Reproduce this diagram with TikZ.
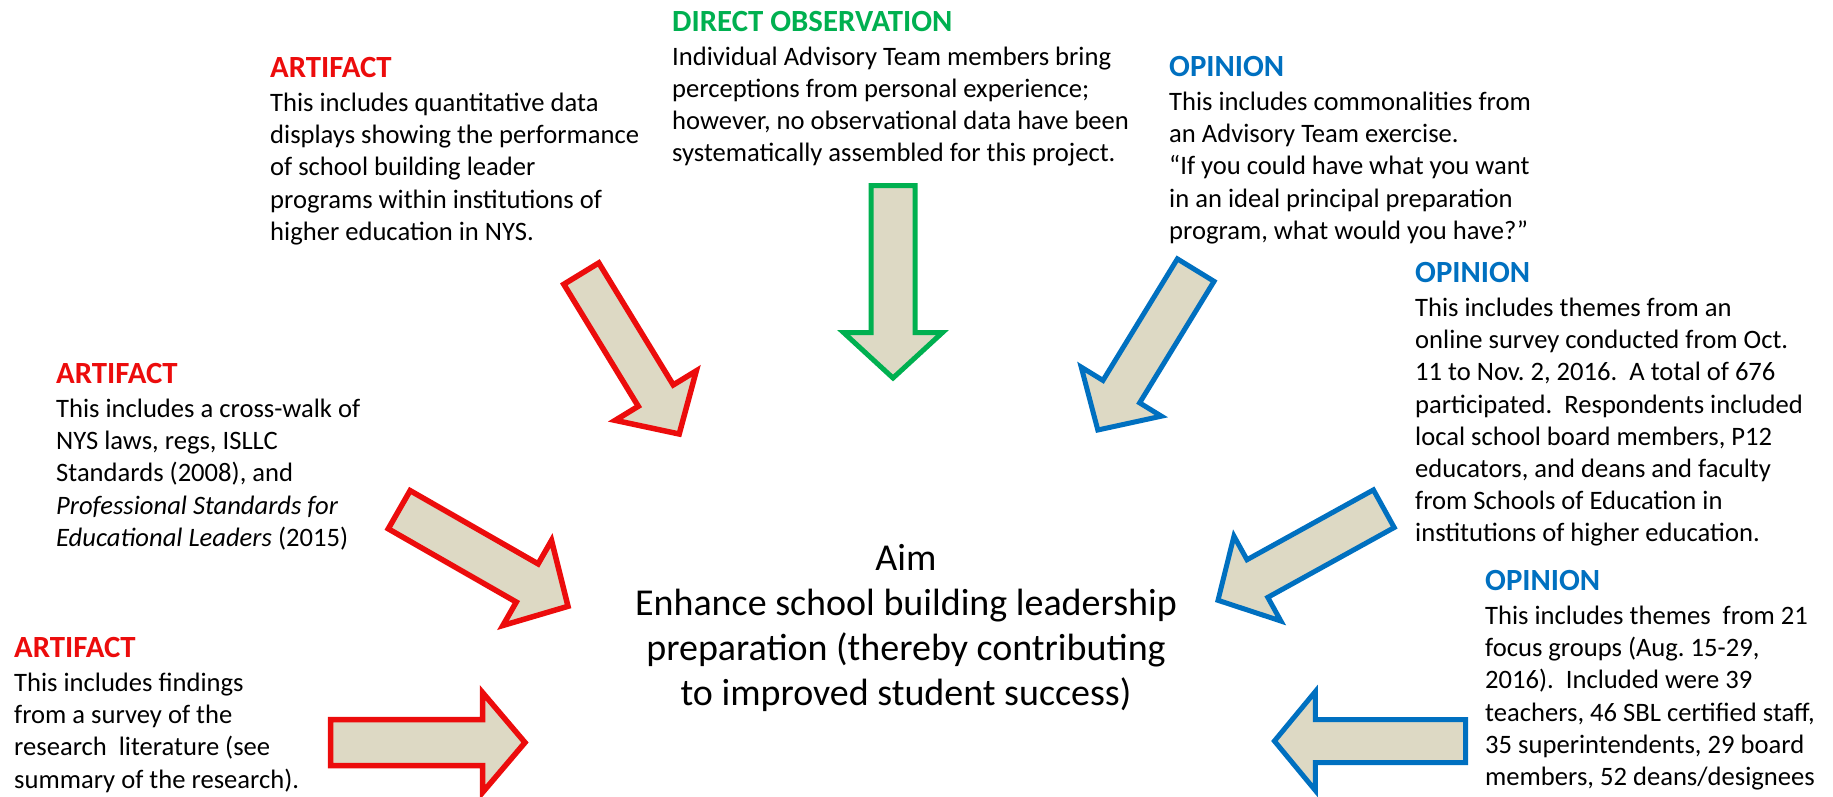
\documentclass[tikz,border=0pt]{standalone}
\usepackage{fontspec}
\setmainfont{Carlito}
\usetikzlibrary{calc}

\definecolor{artred}{RGB}{236,12,12}
\definecolor{opblue}{RGB}{0,112,192}
\definecolor{obsgreen}{RGB}{0,176,80}
\definecolor{arrowfill}{RGB}{221,217,196}

% coloured bold heading of a source block
\newcommand{\blockhead}[2]{{\fontsize{30.8}{32.2}\selectfont\bfseries\color{#1}#2}}
% block arrow: style, tail, tip, shaft half width, head half width, head length
\newcommand{\fatarrow}[6]{%
  \path ($(#3)!#6!(#2)$) coordinate (hb);
  \draw[#1] (#3) -- ($(hb)!#5!90:(#3)$) -- ($(hb)!#4!90:(#3)$) -- ($(#2)!#4!90:(#3)$)
    -- ($(#2)!#4!-90:(#3)$) -- ($(hb)!#4!-90:(#3)$) -- ($(hb)!#5!-90:(#3)$) -- cycle;
}

\begin{document}
\begin{tikzpicture}[x=1pt,y=-1pt,
    txt/.style={anchor=base west,inner sep=0pt,font=\fontsize{26.6}{32.2}\selectfont},
    aimtxt/.style={anchor=base,inner sep=0pt,font=\fontsize{38}{45}\selectfont},
    redarrow/.style={draw=artred,fill=arrowfill,line width=5.5pt},
    bluearrow/.style={draw=opblue,fill=arrowfill,line width=5pt},
    greenarrow/.style={draw=obsgreen,fill=arrowfill,line width=5pt}]
  \useasboundingbox (0,0) rectangle (1833,796);

  % sources
  \node[txt] (obs) at (672,31.7) {\begin{tabular}[t]{@{}l@{}}\blockhead{obsgreen}{DIRECT OBSERVATION}\\[1.2pt]
      Individual Advisory Team members bring\\
      perceptions from personal experience;\\
      however, no observational data have been\\
      systematically assembled for this project.\end{tabular}};
  \node[txt] (art1) at (270,77) {\begin{tabular}[t]{@{}l@{}}\blockhead{artred}{ARTIFACT}\\[2.3pt]
      This includes quantitative data\\
      displays showing the performance\\
      of school building leader\\
      programs within institutions of\\
      higher education in NYS.\end{tabular}};
  \node[txt] (op1) at (1169,76) {\begin{tabular}[t]{@{}l@{}}\blockhead{opblue}{OPINION}\\[2.3pt]
      This includes commonalities from\\
      an Advisory Team exercise.\\
      “If you could have what you want\\
      in an ideal principal preparation\\
      program, what would you have?”\end{tabular}};
  \node[txt] (op2) at (1415,282) {\begin{tabular}[t]{@{}l@{}}\blockhead{opblue}{OPINION}\\[2.3pt]
      This includes themes from an\\
      online survey conducted from Oct.\\
      11 to Nov.\ 2, 2016.\ \ A total of 676\\
      participated.\ \ Respondents included\\
      local school board members, P12\\
      educators, and deans and faculty\\
      from Schools of Education in\\
      institutions of higher education.\end{tabular}};
  \node[txt] (art2) at (56,383) {\begin{tabular}[t]{@{}l@{}}\blockhead{artred}{ARTIFACT}\\[2.3pt]
      This includes a cross-walk of\\
      NYS laws, regs, ISLLC\\
      Standards (2008), and\\
      \textit{Professional Standards for}\\
      \textit{Educational Leaders} (2015)\end{tabular}};
  \node[txt] (art3) at (14,657) {\begin{tabular}[t]{@{}l@{}}\blockhead{artred}{ARTIFACT}\\[2.3pt]
      This includes findings\\
      from a survey of the\\
      research\ \ literature (see\\
      summary of the research).\end{tabular}};
  \node[txt] (op3) at (1485,590) {\begin{tabular}[t]{@{}l@{}}\blockhead{opblue}{OPINION}\\[2.3pt]
      This includes themes\ \ from 21\\
      focus groups (Aug.\ 15-29,\\
      2016).\ \ Included were 39\\
      teachers, 46 SBL certified staff,\\
      35 superintendents, 29 board\\
      members, 52 deans/designees\end{tabular}};

  % aim
  \node[aimtxt] (aim) at (906,570) {\begin{tabular}[t]{@{}c@{}}Aim\\
      Enhance school building leadership\\
      preparation (thereby contributing\\
      to improved student success)\end{tabular}};

  % arrows
  \coordinate (obstail) at (893,185.5);
  \coordinate (obstip) at (893,378);
  \coordinate (art1tail) at (581.3,273.6);
  \coordinate (art1tip) at (679.2,434);
  \coordinate (op1tail) at (1195.7,270.1);
  \coordinate (op1tip) at (1097.8,430);
  \coordinate (art2tail) at (399.2,509.7);
  \coordinate (art2tip) at (568,606.3);
  \coordinate (op2tail) at (1383.8,508.7);
  \coordinate (op2tip) at (1218,600.3);
  \coordinate (art3tail) at (330.5,742.5);
  \coordinate (art3tip) at (525,742.5);
  \coordinate (op3tail) at (1465.5,741);
  \coordinate (op3tip) at (1274.4,741);

  \fatarrow{greenarrow}{obstail}{obstip}{22pt}{49.5pt}{45.5pt}
  \fatarrow{redarrow}{art1tail}{art1tip}{20.5pt}{47.5pt}{45pt}
  \fatarrow{bluearrow}{op1tail}{op1tip}{21.5pt}{47pt}{45pt}
  \fatarrow{redarrow}{art2tail}{art2tip}{22pt}{49pt}{47pt}
  \fatarrow{bluearrow}{op2tail}{op2tip}{21.5pt}{48.5pt}{45pt}
  \fatarrow{redarrow}{art3tail}{art3tip}{23pt}{50pt}{42.5pt}
  \fatarrow{bluearrow}{op3tail}{op3tip}{21.5pt}{49.5pt}{41pt}
\end{tikzpicture}
\end{document}
